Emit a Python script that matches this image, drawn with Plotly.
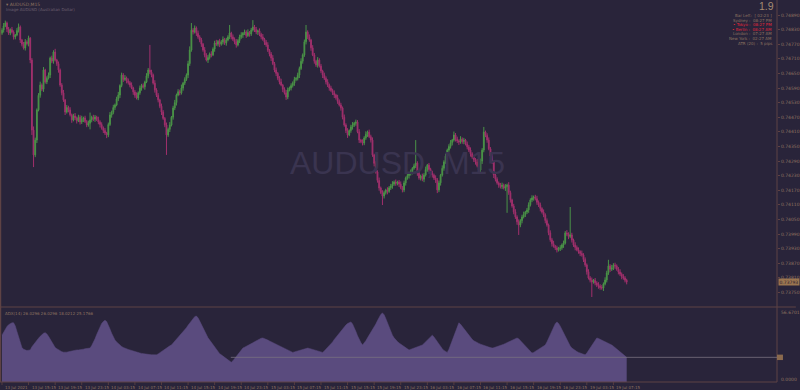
import plotly.graph_objects as go

# ---------------- data ----------------
# M15 closes in points (price * 100000)
closes_pts = [
    74828,74845,74857,74832,74816,74830,74820,74800,74808,74826,
    74841,74787,74770,74754,74779,74772,74795,74705,74417,74315,
    74376,74500,74560,74602,74585,74664,74615,74630,74643,74713,
    74700,74738,74705,74690,74664,74602,74570,74541,74491,74510,
    74500,74480,74459,74475,74467,74455,74470,74450,74462,74467,
    74452,74438,74445,74459,74470,74462,74471,74460,74450,74440,
    74426,74415,74405,74397,74440,74479,74490,74510,74520,74545,
    74561,74600,74643,74625,74631,74620,74612,74602,74590,74574,
    74560,74549,74570,74590,74600,74595,74615,74640,74664,74655,
    74643,74610,74582,74560,74541,74515,74491,74465,74438,74397,
    74420,74438,74470,74508,74530,74561,74575,74570,74590,74610,
    74625,74643,74690,74746,74828,74820,74837,74815,74800,74787,
    74770,74746,74725,74705,74715,74730,74726,74750,74775,74770,
    74782,74770,74779,74790,74775,74787,74800,74816,74800,74790,
    74779,74767,74785,74800,74808,74815,74820,74805,74818,74812,
    74828,74841,74830,74820,74825,74810,74800,74790,74778,74767,
    74745,74730,74713,74690,74664,74650,74630,74615,74602,74585,
    74570,74553,74582,74590,74600,74610,74625,74630,74643,74670,
    74700,74726,74780,74820,74800,74787,74755,74726,74700,74685,
    74705,74680,74660,74643,74630,74615,74602,74590,74580,74570,
    74561,74550,74535,74520,74508,74470,74438,74415,74397,74415,
    74430,74438,74445,74450,74410,74376,74370,74364,74385,74400,
    74409,74390,74376,74315,74280,74245,74210,74179,74160,74146,
    74160,74171,74165,74180,74187,74195,74204,74198,74204,74195,
    74180,74171,74200,74220,74230,74238,74245,74260,74270,74282,
    74240,74220,74228,74215,74232,74255,74273,74255,74240,74232,
    74220,74212,74171,74200,74232,74260,74286,74310,74335,74350,
    74365,74376,74397,74380,74372,74368,74380,74370,74376,74360,
    74348,74335,74320,74306,74295,74286,74270,74253,74290,74335,
    74409,74395,74376,74340,74310,74286,74232,74215,74200,74191,
    74185,74190,74179,74185,74191,74160,74130,74105,74081,74060,
    74040,74027,74045,74060,74070,74080,74089,74110,74130,74138,
    74142,74135,74120,74109,74095,74080,74068,74045,74027,73995,
    73966,73950,73940,73933,73925,73930,73933,73945,73953,73994,
    73990,73980,73986,73965,73945,73935,73925,73918,73910,73904,
    73885,73863,73835,73809,73800,73793,73800,73789,73780,73776,
    73770,73768,73785,73801,73830,73859,73845,73851,73862,73859,
    73845,73834,73825,73815,73809,73800,73793,
]
first_open_pts = 74815

# wick length above / below the body, in points
wick_hi = [
    8,12,10,6,9,5,11,7,4,10,14,6,5,9,12,7,10,4,8,15,
    10,6,9,14,7,12,5,8,11,6,10,7,13,5,9,6,8,12,4,10,
    7,11,5,9,12,6,10,8,14,5,9,7,11,30,6,10,8,5,12,7,
    9,6,10,5,8,12,7,11,6,9,13,5,10,8,12,6,9,7,11,5,
    8,12,6,10,7,9,5,11,8,103,10,6,12,7,9,5,11,8,6,10,
    7,12,5,9,11,6,10,8,14,5,9,7,12,15,29,8,10,6,11,7,
    9,5,12,8,10,6,11,7,9,13,5,10,8,12,6,9,7,33,5,10,
    8,12,6,9,11,5,10,7,13,6,9,28,8,11,5,10,7,12,6,9,
    11,5,8,12,7,10,6,9,13,5,8,12,10,6,9,7,11,5,10,8,
    12,6,9,29,7,10,5,11,8,6,12,7,9,5,10,8,11,6,9,7,
    10,5,12,8,9,6,11,7,10,5,9,12,6,10,8,11,5,9,7,12,
    6,10,8,11,5,9,7,12,6,10,8,5,11,7,9,12,6,10,5,8,
    11,7,9,6,12,8,10,5,9,94,7,11,6,10,8,12,5,9,7,10,
    6,11,8,9,5,12,7,10,6,9,11,5,14,8,10,6,12,7,9,5,
    10,8,11,6,9,7,12,5,10,8,21,6,9,11,7,10,5,12,8,6,
    9,11,7,10,6,12,8,5,9,11,7,10,6,9,12,5,8,10,7,11,
    6,9,12,8,10,5,11,7,9,6,10,8,12,5,9,7,11,6,10,8,
    12,7,115,9,6,11,8,10,5,12,7,9,6,10,8,11,5,9,7,12,
    8,10,6,11,9,25,7,12,8,10,6,9,11,7,10,8,6,
]
wick_lo = [
    7,10,5,12,8,9,6,11,10,5,8,12,9,6,10,7,11,13,20,50,
    9,12,6,10,8,11,7,9,5,12,8,10,6,9,11,7,10,8,12,6,
    10,7,12,6,9,11,5,10,8,12,6,9,7,25,10,8,11,6,9,12,
    7,10,8,13,9,6,11,8,10,5,9,12,7,10,6,11,8,9,5,12,
    10,6,9,8,11,7,12,5,10,8,9,6,11,7,10,8,12,6,9,82,
    8,11,6,10,9,12,5,10,7,11,8,6,12,9,7,10,6,11,8,9,
    11,7,9,6,12,8,10,5,11,7,9,12,6,10,8,11,5,9,10,7,
    9,11,6,10,8,12,7,9,5,11,8,6,10,9,12,7,10,6,11,8,
    7,10,12,6,9,11,8,10,5,12,7,12,9,6,10,8,11,7,9,12,
    6,10,8,11,9,7,12,5,10,8,11,6,9,12,7,10,8,11,6,9,
    12,8,10,6,11,9,7,10,12,5,9,11,8,10,6,12,7,10,9,8,
    11,6,10,8,12,7,9,11,6,37,10,8,12,6,9,11,7,10,8,12,
    6,10,9,11,7,12,8,10,6,9,11,7,10,8,12,6,9,11,7,10,
    8,12,13,9,11,6,10,8,12,7,9,11,6,10,8,12,7,9,11,6,
    10,8,12,7,9,11,6,10,8,12,9,7,11,6,10,8,12,9,7,11,
    8,10,6,12,108,9,11,7,10,8,12,41,9,11,6,10,8,12,7,9,
    11,7,10,8,12,6,9,11,7,10,8,12,6,9,11,7,10,8,12,6,
    9,11,7,10,8,12,6,9,11,7,10,8,12,6,9,62,7,10,8,11,
    9,7,12,6,10,8,11,7,9,12,6,10,8,11,7,9,10,
]

# ADX(14) main line
adx = [
    38.0,40.5,43.0,45.0,46.5,47.5,48.0,48.0,
    45.5,41.0,36.5,32.0,28.0,
    26.5,25.8,25.5,25.8,26.0,
    28.5,30.5,32.0,
    34.0,35.5,37.0,38.5,39.5,40.0,
    39.0,37.0,34.5,32.0,30.0,28.0,
    27.0,26.0,25.2,24.6,24.2,24.0,
    24.2,24.5,24.9,25.3,25.6,25.8,26.0,26.0,26.0,
    26.3,26.6,27.0,27.2,27.4,27.5,
    29.5,32.0,35.0,38.5,42.0,45.0,47.5,49.0,50.0,
    49.0,46.5,43.0,39.5,36.5,34.0,32.5,
    31.0,29.8,28.8,28.0,27.3,26.8,26.4,26.0,
    25.5,25.0,24.6,24.2,23.8,23.5,23.2,22.9,22.7,
    22.5,22.3,22.2,22.1,22.0,22.0,22.0,
    22.8,23.8,25.0,26.0,27.0,27.8,28.6,29.3,30.0,
    31.5,33.0,34.5,36.0,37.5,39.0,40.5,42.0,
    44.0,46.0,48.0,50.0,51.8,53.0,53.5,
    52.0,49.5,46.5,43.5,40.5,38.0,35.8,34.0,
    32.0,30.0,28.0,26.0,24.5,23.0,22.0,
    21.0,19.8,18.6,17.5,16.6,16.0,
    17.2,19.0,21.0,23.0,24.8,26.3,27.5,
    28.2,28.8,29.5,30.2,31.0,31.8,32.6,33.4,34.2,35.0,35.5,35.7,
    35.3,34.7,34.0,33.3,32.6,31.9,31.2,30.6,30.0,
    29.3,28.6,27.9,27.2,26.5,25.8,25.1,24.5,24.0,
    24.4,24.8,25.3,25.8,26.2,26.6,27.0,27.3,27.5,
    27.2,26.8,26.3,25.8,25.3,24.8,24.4,24.1,24.0,
    25.2,26.6,28.0,29.5,31.0,32.5,34.5,36.3,38.0,
    39.8,41.6,43.3,44.8,46.2,47.4,48.3,48.7,
    47.0,44.5,41.0,37.5,34.5,32.0,30.0,
    31.5,33.5,35.8,38.0,40.2,42.0,
    44.5,47.0,49.8,52.5,54.8,56.0,
    54.5,51.5,48.0,44.5,41.0,38.0,35.8,34.0,
    32.8,31.6,30.5,29.5,28.6,27.8,26.9,26.0,
    26.5,27.0,27.6,28.2,28.8,29.3,29.7,30.0,
    31.3,32.7,34.2,35.6,37.0,38.0,
    36.5,34.5,32.5,30.5,28.7,27.0,25.6,24.6,24.0,
    26.5,30.0,34.0,38.0,42.0,45.5,48.0,
    46.8,45.0,43.0,41.0,39.2,37.5,36.0,34.6,33.4,32.5,
    31.9,31.3,30.7,30.1,29.6,29.1,28.7,28.3,27.9,27.5,
    27.8,28.2,28.6,29.1,29.6,30.0,
    30.6,31.3,32.0,32.7,33.4,34.1,34.8,35.3,35.7,
    35.0,33.7,32.2,30.7,29.2,27.8,26.4,24.9,23.5,
    24.0,24.8,25.7,26.6,27.5,28.4,29.2,30.0,
    32.5,35.5,38.7,42.0,45.0,47.3,48.7,
    47.5,45.3,42.5,39.5,36.5,33.8,31.2,29.2,27.5,
    26.4,25.5,24.7,24.0,23.4,22.8,22.3,22.0,
    23.5,25.5,27.8,30.2,32.5,34.5,35.7,
    35.3,34.7,34.0,33.3,32.6,31.9,31.2,30.6,30.0,
    29.0,27.9,26.7,25.5,24.3,23.1,22.0,21.0,20.0,
]
adx_level = 20

time_labels = [
    "13 Jul 2021", "13 Jul 15:15", "13 Jul 19:15", "13 Jul 23:15",
    "14 Jul 03:15", "14 Jul 07:15", "14 Jul 11:15", "14 Jul 15:15",
    "14 Jul 19:15", "14 Jul 23:15", "15 Jul 03:15", "15 Jul 07:15",
    "15 Jul 11:15", "15 Jul 15:15", "15 Jul 19:15", "15 Jul 23:15",
    "16 Jul 03:15", "16 Jul 07:15", "16 Jul 11:15", "16 Jul 15:15",
    "16 Jul 19:15", "16 Jul 23:15", "19 Jul 03:15", "19 Jul 07:15",
]
bars_per_label = 16

price_ticks = [
    "0.74890", "0.74830", "0.74770", "0.74710", "0.74650", "0.74590",
    "0.74530", "0.74470", "0.74410", "0.74350", "0.74290", "0.74230",
    "0.74170", "0.74110", "0.74050", "0.73990", "0.73930", "0.73870",
    "0.73810", "0.73750", "0.73690",
]
adx_max_label = "56.6701"
adx_min_label = "0.0000"
adx_header = "ADX(14) 26.0296 26.0296 18.0212 25.1766"

info_big = "1.9"
info_lines = [
    ("Bar Left:  [ 02:23 ]", False),
    ("Sydney :  08:27 PM", False),
    ("\u2022 Tokyo :  08:27 PM", True),
    ("\u2022 Berlin :  08:27 AM", True),
    ("London :  07:27 AM", False),
    ("New York :  02:27 AM", False),
    ("ATR (20) :  5 pips", False),
]

# ---------------- styling ----------------
BG = "#29243a"
FRAME = "#5e4244"
TXT = "#8e7361"
UP = "#4a9347"
DN = "#a0306c"
AREA = "#5a4b7e"

W, H = 800, 390
ML, MR, MT, MB = 0, 19, 0, 8
PW, PH = W - ML - MR, H - MT - MB  # 781 x 382

n = min(len(closes_pts), len(wick_hi), len(wick_lo), len(adx))
closes = [v / 1e5 for v in closes_pts[:n]]
opens = [first_open_pts / 1e5] + closes[:-1]
highs = [max(o, c) + h / 1e5 for o, c, h in zip(opens, closes, wick_hi)]
lows = [min(o, c) - l / 1e5 for o, c, l in zip(opens, closes, wick_lo)]
xs = list(range(n))

# pixel geometry of the reference
BAR_PX = 1.67
X0_PX = 2.0
x_lo = (0 - X0_PX) / BAR_PX
x_hi = (PW - X0_PX) / BAR_PX

MAIN_BOTTOM_PX = 306
PANEL_TOP_PX = 308
PX_PER_PRICE = 14.6 / 0.0006
top_price = float(price_ticks[0]) + 15 / PX_PER_PRICE
bot_price = float(price_ticks[0]) - (MAIN_BOTTOM_PX - 15) / PX_PER_PRICE

fig = go.Figure()
fig.add_trace(go.Candlestick(
    x=xs, open=opens, high=highs, low=lows, close=closes,
    increasing=dict(line=dict(color=UP, width=1), fillcolor=UP),
    decreasing=dict(line=dict(color=DN, width=1), fillcolor=DN),
    whiskerwidth=0, xaxis="x", yaxis="y", hoverinfo="skip", showlegend=False,
))
fig.add_trace(go.Scatter(
    x=xs, y=adx[:n], mode="lines", fill="tozeroy", fillcolor=AREA,
    line=dict(color=AREA, width=0.5), xaxis="x2", yaxis="y2",
    hoverinfo="skip", showlegend=False,
))

def py(px):
    return 1 - px / PH

tickvals = [float(t) for t in price_ticks]
fig.update_layout(
    width=W, height=H, margin=dict(l=ML, r=MR, t=MT, b=MB),
    paper_bgcolor=BG, plot_bgcolor=BG,
    font=dict(family="DejaVu Sans", color=TXT, size=5),
    xaxis=dict(domain=[0, 1], range=[x_lo, x_hi], anchor="y", showgrid=False,
               zeroline=False, showticklabels=False, rangeslider=dict(visible=False),
               showline=False, ticks=""),
    xaxis2=dict(domain=[0, 1], range=[x_lo, x_hi], anchor="y2", matches="x",
                showgrid=False, zeroline=False, showticklabels=False, ticks=""),
    yaxis=dict(domain=[py(MAIN_BOTTOM_PX), 1], range=[bot_price, top_price],
               side="right", anchor="x", showgrid=False, zeroline=False,
               tickvals=tickvals, ticktext=price_ticks, ticks="outside",
               ticklen=2, tickcolor=FRAME, tickfont=dict(size=4.5, color=TXT),
               showline=False),
    yaxis2=dict(domain=[0, py(PANEL_TOP_PX)], range=[0, 60], side="right",
                anchor="x2", showgrid=False, zeroline=False, showticklabels=False,
                ticks=""),
)

shapes = []
# frame lines
shapes.append(dict(type="line", xref="paper", yref="paper", x0=0.0006, x1=0.0006,
                   y0=0, y1=1, line=dict(color=FRAME, width=1.5)))
shapes.append(dict(type="line", xref="paper", yref="paper", x0=1, x1=1,
                   y0=0, y1=1, line=dict(color=FRAME, width=1)))
shapes.append(dict(type="line", xref="paper", yref="paper", x0=0, x1=1 + MR / PW,
                   y0=py(307), y1=py(307), line=dict(color=FRAME, width=1.2)))
shapes.append(dict(type="line", xref="paper", yref="paper", x0=0, x1=1,
                   y0=0, y1=0, line=dict(color=FRAME, width=1)))
# level line in the indicator window
shapes.append(dict(type="line", xref="x2", yref="y2", x0=(232 - X0_PX) / BAR_PX,
                   x1=x_hi, y0=adx_level, y1=adx_level,
                   line=dict(color="#77707f", width=0.8)))
shapes.append(dict(type="rect", xref="paper", yref="y2", x0=1.0, x1=1 + 6 / PW,
                   y0=adx_level - 2.2, y1=adx_level + 2.2, fillcolor="#8a6a4e",
                   line=dict(width=0)))
# small time ticks
for k in range(len(time_labels)):
    xv = k * bars_per_label
    shapes.append(dict(type="line", xref="x", yref="paper", x0=xv, x1=xv,
                       y0=0, y1=-3 / PH, line=dict(color=FRAME, width=0.8)))
fig.update_layout(shapes=shapes)

ann = []
for k, lab in enumerate(time_labels):
    ann.append(dict(x=k * bars_per_label, y=-1 / PH, xref="x", yref="paper",
                    text=lab, showarrow=False, xanchor="left", yanchor="top",
                    xshift=1, font=dict(size=4, color=TXT)))
# current price tag
last = closes[-1]
ann.append(dict(x=1, y=last, xref="paper", yref="y", text=f"{last:.5f}",
                showarrow=False, xanchor="left", yanchor="middle", xshift=1,
                bgcolor="#9a7550", font=dict(size=4.5, color="#2a2030"),
                borderpad=0.5))
# indicator window labels
ann.append(dict(x=3 / PW, y=py(313), xref="paper", yref="paper", text=adx_header,
                showarrow=False, xanchor="left", yanchor="middle",
                font=dict(size=4, color=TXT)))
ann.append(dict(x=1, y=py(312), xref="paper", yref="paper", text=adx_max_label,
                showarrow=False, xanchor="left", yanchor="middle", xshift=2,
                font=dict(size=4.5, color=TXT)))
ann.append(dict(x=1, y=py(379), xref="paper", yref="paper", text=adx_min_label,
                showarrow=False, xanchor="left", yanchor="middle", xshift=2,
                font=dict(size=4.5, color=TXT)))
# watermark
ann.append(dict(x=400 / PW, y=py(163), xref="paper", yref="paper",
                text="AUDUSD, M15", showarrow=False, xanchor="center",
                yanchor="middle", font=dict(size=32, color="#3a3450",
                family="Liberation Sans")))
# symbol caption top-left
ann.append(dict(x=4 / PW, y=py(4), xref="paper", yref="paper",
                text="\u25be AUDUSD,M15", showarrow=False, xanchor="left",
                yanchor="middle", font=dict(size=4.5, color=TXT)))
ann.append(dict(x=4 / PW, y=py(10), xref="paper", yref="paper",
                text="Image AUDUSD (Australian Dollar)", showarrow=False,
                xanchor="left", yanchor="middle", font=dict(size=4, color="#6e6070")))
# info panel top-right
ann.append(dict(x=780 / PW, y=py(5.5), xref="paper", yref="paper", text=info_big,
                showarrow=False, xanchor="right", yanchor="middle",
                font=dict(size=10.5, color="#a58b72", family="Liberation Sans")))
for j, (line, hot) in enumerate(info_lines):
    ann.append(dict(x=778 / PW, y=py(15.5 + 4.6 * j), xref="paper", yref="paper",
                    text=line, showarrow=False, xanchor="right", yanchor="middle",
                    font=dict(size=4, color="#e0283a" if hot else TXT)))
fig.update_layout(annotations=ann)

fig.write_html("out.html")
